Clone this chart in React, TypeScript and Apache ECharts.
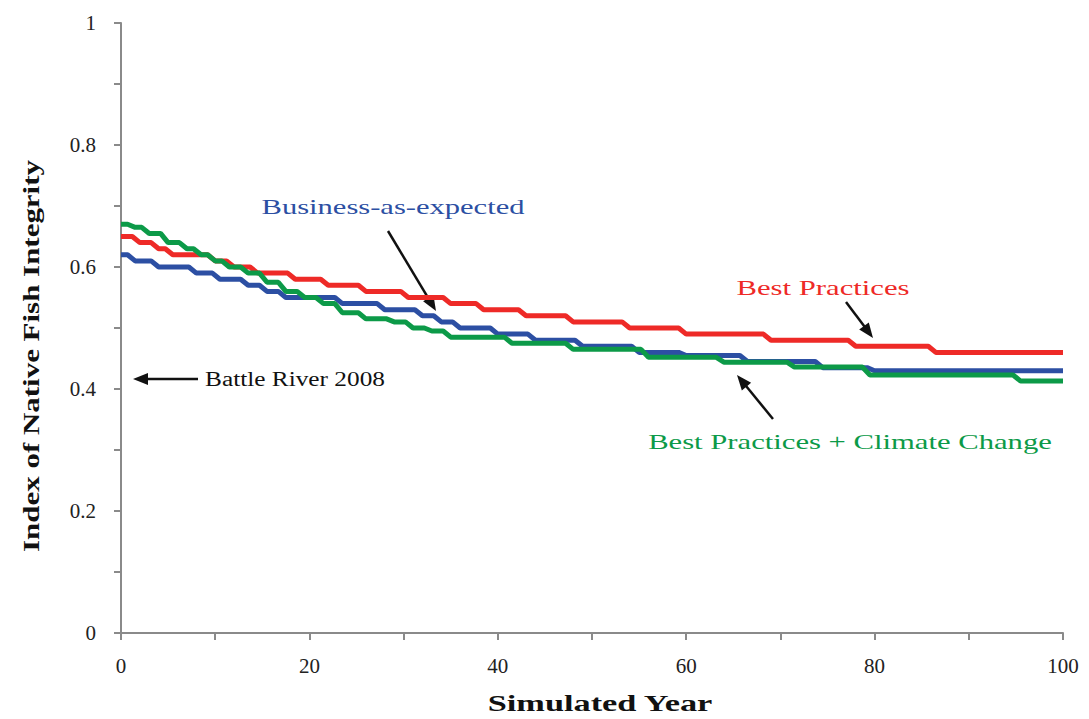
import React, { useEffect, useRef } from "react";
import * as echarts from "echarts";

// Level changes: [year at which the new level is reached, index value]
const redSteps: [number, number][] = [
  [0, 0.65], [2, 0.64], [4, 0.63], [5.5, 0.62], [10, 0.61], [12, 0.6], [14.5, 0.59],
  [18.5, 0.58], [22, 0.57], [26, 0.56], [30.5, 0.55], [35, 0.54], [38.5, 0.53],
  [43, 0.52], [48, 0.51], [54, 0.5], [60, 0.49], [69, 0.48], [78, 0.47], [86.5, 0.46],
];
const blueSteps: [number, number][] = [
  [0, 0.62], [1.5, 0.61], [4, 0.6], [8, 0.59], [10.5, 0.58], [13.5, 0.57], [15.5, 0.56],
  [17.5, 0.55], [23.5, 0.54], [28, 0.53], [32, 0.52], [34, 0.51], [36, 0.5], [40, 0.49],
  [44, 0.48], [49, 0.47], [55, 0.46], [60, 0.455], [66.5, 0.445], [74.5, 0.435], [80, 0.43],
];
const greenSteps: [number, number][] = [
  [0, 0.67], [1.5, 0.665], [3, 0.655], [5, 0.64], [7, 0.63], [8.5, 0.62], [10, 0.61],
  [11.5, 0.6], [13.5, 0.59], [15.5, 0.575], [17.5, 0.56], [19.5, 0.55], [21.5, 0.54], [23.5, 0.525],
  [26, 0.515], [29, 0.51], [31, 0.5], [33, 0.495], [35, 0.485], [41.5, 0.475], [48, 0.465],
  [56, 0.452], [64, 0.444], [71.5, 0.436], [79.5, 0.423], [95.5, 0.413],
];
const lastYear = 100;
const xTickLabels = [0, 20, 40, 60, 80, 100];
const yTickLabels = [0, 0.2, 0.4, 0.6, 0.8, 1];

const seriesNames = ["Best Practices", "Business-as-expected", "Best Practices + Climate Change"];
const seriesColors = ["#EE2A27", "#2C4FA3", "#0C9A48"];

function toLine(steps: [number, number][]): [number, number][] {
  const pts: [number, number][] = [];
  for (let i = 0; i < steps.length; i++) {
    const [x, v] = steps[i];
    pts.push([x, v]);
    const nx = i + 1 < steps.length ? steps[i + 1][0] - 0.8 : lastYear;
    pts.push([nx, v]);
  }
  return pts;
}

const measureCanvas = typeof document !== "undefined" ? document.createElement("canvas") : null;
function fitScale(text: string, font: string, width: number): number {
  if (!measureCanvas) return 1;
  const ctx = measureCanvas.getContext("2d");
  if (!ctx) return 1;
  ctx.font = font;
  const w = ctx.measureText(text).width;
  return w > 0 ? width / w : 1;
}

function label(text: string, cx: number, cy: number, width: number, font: string, fill: string, rotation = 0) {
  return {
    type: "text",
    x: cx,
    y: cy,
    rotation,
    scaleX: fitScale(text, font, width),
    silent: true,
    style: { text, font, fill, textAlign: "center", textVerticalAlign: "middle" },
  };
}

function arrow(x1: number, y1: number, tx: number, ty: number) {
  const dx = tx - x1;
  const dy = ty - y1;
  const len = Math.sqrt(dx * dx + dy * dy);
  const ux = dx / len;
  const uy = dy / len;
  const hl = 15;
  const hw = 6;
  const bx = tx - ux * hl;
  const by = ty - uy * hl;
  return [
    {
      type: "line",
      silent: true,
      shape: { x1, y1, x2: bx + ux * 2, y2: by + uy * 2 },
      style: { stroke: "#111", lineWidth: 2.5 },
    },
    {
      type: "polygon",
      silent: true,
      shape: {
        points: [
          [tx, ty],
          [bx - uy * hw, by + ux * hw],
          [bx + uy * hw, by - ux * hw],
        ],
      },
      style: { fill: "#111" },
    },
  ];
}

export default function App() {
  const ref = useRef<HTMLDivElement>(null);
  useEffect(() => {
    if (!ref.current) return;
    const chart = echarts.init(ref.current, null, { renderer: "svg" });
    const tickFont = "Liberation Serif";
    const annFont = "22px 'Liberation Serif'";
    const titleFont = "bold 24px 'Liberation Serif'";
    const option: any = {
      animation: false,
      backgroundColor: "#ffffff",
      grid: { left: 121, right: 26, top: 23, bottom: 86 },
      xAxis: {
        type: "value",
        min: 0,
        max: 100,
        interval: 10,
        axisLine: { lineStyle: { color: "#8a8a8a", width: 2 } },
        axisTick: { length: 7, lineStyle: { color: "#8a8a8a", width: 2 } },
        splitLine: { show: false },
        axisLabel: {
          margin: 22,
          fontFamily: tickFont,
          fontSize: 21,
          color: "#222",
          formatter: (v: number) => (xTickLabels.indexOf(Math.round(v)) >= 0 ? String(Math.round(v)) : ""),
        },
      },
      yAxis: {
        type: "value",
        min: 0,
        max: 1,
        interval: 0.1,
        axisLine: { show: true, lineStyle: { color: "#8a8a8a", width: 2 } },
        axisTick: { show: true, length: 7, lineStyle: { color: "#8a8a8a", width: 2 } },
        splitLine: { show: false },
        axisLabel: {
          margin: 25,
          fontFamily: tickFont,
          fontSize: 21,
          color: "#222",
          formatter: (v: number) => {
            const r = Math.round(v * 10) / 10;
            return yTickLabels.some((t) => Math.abs(t - r) < 1e-6) ? String(r) : "";
          },
        },
      },
      series: [redSteps, blueSteps, greenSteps].map((steps, i) => ({
        name: seriesNames[i],
        type: "line",
        data: toLine(steps),
        showSymbol: false,
        silent: true,
        z: 2 + i,
        lineStyle: { width: 5, color: seriesColors[i] },
        itemStyle: { color: seriesColors[i] },
      })),
      graphic: [
        label("Business-as-expected", 393, 207, 263, annFont, seriesColors[1]),
        label("Best Practices", 823, 288, 173, annFont, seriesColors[0]),
        label("Best Practices + Climate Change", 850, 442, 404, annFont, seriesColors[2]),
        label("Battle River 2008", 295, 379, 180, "20px 'Liberation Serif'", "#111"),
        label("Simulated Year", 600, 703, 226, titleFont, "#111"),
        label("Index of Native Fish Integrity", 31, 356, 392, titleFont, "#111", Math.PI / 2),
        ...arrow(388, 231, 436, 311),
        ...arrow(846, 302, 873, 338),
        ...arrow(773, 419, 737, 375),
        ...arrow(198, 379, 133, 379),
      ],
    };
    chart.setOption(option);
    return () => chart.dispose();
  }, []);
  return (
    <div
      ref={ref}
      style={{ position: "fixed", left: 0, top: 0, width: 1089, height: 719, background: "#fff" }}
    />
  );
}
